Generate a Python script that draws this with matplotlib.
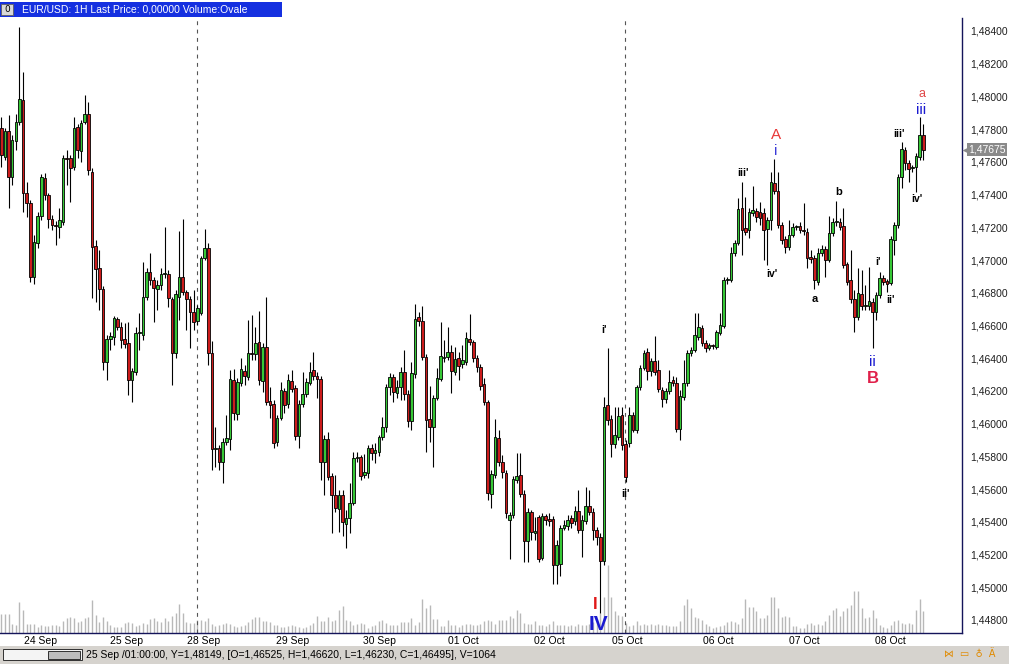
import matplotlib
matplotlib.use('Agg')
import matplotlib.pyplot as plt
import matplotlib.transforms as mtrans
import numpy as np
from matplotlib.patches import Rectangle
from matplotlib.ticker import FuncFormatter

# EUR/USD 1H candles
opens = [
    1.47807, 1.47630, 1.47789, 1.47508, 1.47728, 1.47844, 1.47978, 1.47410, 1.47349, 1.46896,
    1.47104, 1.47269, 1.47502, 1.47398, 1.47251, 1.47214, 1.47202, 1.47233, 1.47624, 1.47624,
    1.47569, 1.47813, 1.47667, 1.47844, 1.47893, 1.47538, 1.47086, 1.46951, 1.46823, 1.46377,
    1.46518, 1.46530, 1.46640, 1.46591, 1.46518, 1.46493, 1.46267, 1.46316, 1.46554, 1.46542,
    1.46774, 1.46927, 1.46878, 1.46823, 1.46848, 1.46915, 1.46915, 1.46762, 1.46432, 1.46774,
    1.46896, 1.46805, 1.46762, 1.46683, 1.46628, 1.46676, 1.47013, 1.47074, 1.46432, 1.45845,
    1.45851, 1.45766, 1.45888, 1.45906, 1.46267, 1.46059, 1.46249, 1.46322, 1.46285, 1.46432,
    1.46426, 1.46499, 1.46261, 1.46469, 1.46138, 1.46120, 1.45888, 1.46035, 1.46200, 1.46120,
    1.46261, 1.46218, 1.45925, 1.46120, 1.46181, 1.46249, 1.46328, 1.46291, 1.46273, 1.45766,
    1.45906, 1.45680, 1.45564, 1.45479, 1.45564, 1.45387, 1.45423, 1.45515, 1.45790, 1.45796,
    1.45686, 1.45699, 1.45851, 1.45821, 1.45827, 1.45919, 1.45980, 1.46224, 1.46285, 1.46188,
    1.46224, 1.46316, 1.46181, 1.46016, 1.46303, 1.46652, 1.46628, 1.46407, 1.46028, 1.45980,
    1.46157, 1.46273, 1.46401, 1.46407, 1.46438, 1.46316, 1.46401, 1.46365, 1.46377, 1.46518,
    1.46499, 1.46401, 1.46346, 1.46242, 1.46132, 1.45570, 1.45686, 1.45912, 1.45766, 1.45699,
    1.45411, 1.45442, 1.45656, 1.45686, 1.45570, 1.45283, 1.45460, 1.45332, 1.45430, 1.45179,
    1.45436, 1.45417, 1.45417, 1.45136, 1.45142, 1.45362, 1.45375, 1.45423, 1.45405, 1.45466,
    1.45350, 1.45405, 1.45497, 1.45460, 1.45350, 1.45307, 1.45161, 1.46114, 1.46028, 1.45876,
    1.45919, 1.46053, 1.45876, 1.45882, 1.46053, 1.45961, 1.46224, 1.46340, 1.46438, 1.46322,
    1.46383, 1.46328, 1.46206, 1.46151, 1.46200, 1.46267, 1.46249, 1.45967, 1.46163, 1.46249,
    1.46432, 1.46450, 1.46530, 1.46585, 1.46493, 1.46462, 1.46481, 1.46469, 1.46554, 1.46597,
    1.46878, 1.46878, 1.47043, 1.47104, 1.47318, 1.47196, 1.47184, 1.47288, 1.47300, 1.47294,
    1.47288, 1.47190, 1.47245, 1.47471, 1.47422, 1.47214, 1.47129, 1.47080, 1.47153, 1.47202,
    1.47208, 1.47184, 1.47171, 1.47019, 1.47013, 1.46866, 1.47043, 1.47068, 1.47000, 1.47165,
    1.47233, 1.47233, 1.47208, 1.46976, 1.46878, 1.46762, 1.46652, 1.46793, 1.46719, 1.46719,
    1.46744, 1.46683, 1.46786, 1.46890, 1.46872, 1.46860, 1.47123, 1.47214, 1.47508, 1.47673,
    1.47593, 1.47563, 1.47569, 1.47630, 1.47764,
]
highs = [
    1.47874, 1.47807, 1.47887, 1.47764, 1.47893, 1.48424, 1.48149, 1.47477, 1.47367, 1.47153,
    1.47294, 1.47526, 1.47532, 1.47410, 1.47275, 1.47239, 1.47318, 1.47642, 1.47673, 1.47642,
    1.47874, 1.47832, 1.47856, 1.48009, 1.47966, 1.47563, 1.47123, 1.47061, 1.46840, 1.46542,
    1.46560, 1.46658, 1.46652, 1.46621, 1.46615, 1.46621, 1.46340, 1.46591, 1.46676, 1.46988,
    1.46951, 1.47043, 1.46896, 1.46878, 1.46951, 1.47202, 1.46939, 1.46774, 1.46817, 1.47178,
    1.47251, 1.46817, 1.46780, 1.46817, 1.46725, 1.47025, 1.47190, 1.47104, 1.46505, 1.45980,
    1.45870, 1.45912, 1.46053, 1.46328, 1.46334, 1.46279, 1.46401, 1.46359, 1.46634, 1.46664,
    1.46591, 1.46689, 1.46493, 1.46774, 1.46224, 1.46145, 1.46053, 1.46255, 1.46218, 1.46303,
    1.46328, 1.46236, 1.46145, 1.46316, 1.46279, 1.46377, 1.46438, 1.46316, 1.46291, 1.45931,
    1.45949, 1.45699, 1.45686, 1.45595, 1.45595, 1.45472, 1.45637, 1.45827, 1.45827, 1.45809,
    1.45815, 1.45870, 1.45876, 1.45882, 1.45931, 1.46041, 1.46242, 1.46310, 1.46303, 1.46267,
    1.46346, 1.46450, 1.46206, 1.46377, 1.46731, 1.46683, 1.46719, 1.46426, 1.46230, 1.46175,
    1.46340, 1.46621, 1.46511, 1.46591, 1.46481, 1.46469, 1.46438, 1.46481, 1.46560, 1.46670,
    1.46511, 1.46420, 1.46365, 1.46279, 1.46145, 1.45717, 1.46029, 1.45961, 1.45809, 1.45717,
    1.45460, 1.45680, 1.45821, 1.45821, 1.45595, 1.45485, 1.45472, 1.45430, 1.45442, 1.45454,
    1.45448, 1.45454, 1.45436, 1.45289, 1.45381, 1.45411, 1.45442, 1.45442, 1.45497, 1.45595,
    1.45442, 1.45613, 1.45595, 1.45485, 1.45368, 1.45332, 1.46163, 1.46462, 1.46053, 1.46102,
    1.46102, 1.46102, 1.45900, 1.46102, 1.46071, 1.46236, 1.46359, 1.46450, 1.46462, 1.46401,
    1.46536, 1.46389, 1.46224, 1.46218, 1.46328, 1.46291, 1.46285, 1.46206, 1.46389, 1.46450,
    1.46469, 1.46676, 1.46676, 1.46603, 1.46511, 1.46493, 1.46487, 1.46573, 1.46676, 1.46896,
    1.46896, 1.47080, 1.47123, 1.47379, 1.47477, 1.47385, 1.47318, 1.47453, 1.47318, 1.47355,
    1.47318, 1.47263, 1.47538, 1.47618, 1.47538, 1.47233, 1.47147, 1.47245, 1.47227, 1.47214,
    1.47233, 1.47349, 1.47196, 1.47061, 1.47031, 1.47074, 1.47092, 1.47086, 1.47269, 1.47257,
    1.47361, 1.47257, 1.47318, 1.46988, 1.47061, 1.46817, 1.46951, 1.46939, 1.46848, 1.46958,
    1.46768, 1.46805, 1.46927, 1.46909, 1.46884, 1.47147, 1.47233, 1.47526, 1.47722, 1.47691,
    1.47612, 1.47581, 1.47654, 1.47874, 1.47832,
]
lows = [
    1.47569, 1.47612, 1.47318, 1.47459, 1.47673, 1.47825, 1.47294, 1.47263, 1.46866, 1.46854,
    1.47074, 1.47245, 1.47367, 1.47196, 1.47184, 1.47092, 1.47135, 1.47214, 1.47459, 1.47355,
    1.47550, 1.47624, 1.47599, 1.47832, 1.47520, 1.46768, 1.46744, 1.46695, 1.46328, 1.46267,
    1.46450, 1.46481, 1.46573, 1.46462, 1.46462, 1.46175, 1.46132, 1.46297, 1.46450, 1.46511,
    1.46756, 1.46848, 1.46621, 1.46695, 1.46817, 1.46890, 1.46713, 1.46236, 1.46401, 1.46634,
    1.46786, 1.46573, 1.46462, 1.46573, 1.46603, 1.46664, 1.47000, 1.46359, 1.45717, 1.45735,
    1.45717, 1.45637, 1.45870, 1.45839, 1.46022, 1.46022, 1.46230, 1.46236, 1.46267, 1.46389,
    1.46389, 1.46236, 1.46194, 1.46114, 1.46034, 1.45851, 1.45864, 1.46022, 1.46065, 1.46096,
    1.46194, 1.45900, 1.45851, 1.46102, 1.46163, 1.46236, 1.46267, 1.46157, 1.45656, 1.45564,
    1.45656, 1.45332, 1.45460, 1.45338, 1.45313, 1.45240, 1.45332, 1.45503, 1.45766, 1.45656,
    1.45668, 1.45668, 1.45778, 1.45760, 1.45803, 1.45900, 1.45949, 1.46175, 1.46132, 1.46157,
    1.46145, 1.46145, 1.45980, 1.45961, 1.46279, 1.46597, 1.46389, 1.45827, 1.45888, 1.45735,
    1.46145, 1.46261, 1.46377, 1.46389, 1.46187, 1.46297, 1.46267, 1.46340, 1.46359, 1.46481,
    1.46377, 1.46316, 1.46206, 1.46114, 1.45533, 1.45485, 1.45668, 1.45741, 1.45668, 1.45423,
    1.45173, 1.45423, 1.45637, 1.45552, 1.45155, 1.45155, 1.45289, 1.45289, 1.45155, 1.45167,
    1.45381, 1.45374, 1.45020, 1.45020, 1.45069, 1.45350, 1.45350, 1.45362, 1.45381, 1.45332,
    1.45185, 1.45387, 1.45442, 1.45289, 1.45258, 1.44843, 1.45136, 1.45992, 1.45796, 1.45851,
    1.45900, 1.45839, 1.45643, 1.45857, 1.45949, 1.45943, 1.46206, 1.46328, 1.46267, 1.46291,
    1.46297, 1.46194, 1.46102, 1.46126, 1.46181, 1.46230, 1.45949, 1.45900, 1.46145, 1.46230,
    1.46414, 1.46438, 1.46511, 1.46475, 1.46438, 1.46450, 1.46456, 1.46456, 1.46542, 1.46585,
    1.46854, 1.46866, 1.47025, 1.47092, 1.47031, 1.47153, 1.47135, 1.47269, 1.47233, 1.47214,
    1.47000, 1.46970, 1.47184, 1.47404, 1.47196, 1.47098, 1.47043, 1.47061, 1.47141, 1.47184,
    1.47165, 1.47153, 1.46951, 1.46982, 1.46823, 1.46848, 1.47025, 1.46896, 1.46988, 1.47147,
    1.47208, 1.47184, 1.46951, 1.46848, 1.46738, 1.46560, 1.46634, 1.46695, 1.46695, 1.46695,
    1.46462, 1.46634, 1.46768, 1.46848, 1.46805, 1.46848, 1.47031, 1.47196, 1.47440, 1.47550,
    1.47477, 1.47538, 1.47416, 1.47612, 1.47612,
]
closes = [
    1.47642, 1.47789, 1.47508, 1.47734, 1.47844, 1.47984, 1.47410, 1.47349, 1.46896, 1.47110,
    1.47269, 1.47508, 1.47398, 1.47251, 1.47214, 1.47208, 1.47245, 1.47624, 1.47618, 1.47563,
    1.47807, 1.47673, 1.47838, 1.47893, 1.47550, 1.47080, 1.46945, 1.46823, 1.46377, 1.46518,
    1.46536, 1.46646, 1.46591, 1.46511, 1.46487, 1.46267, 1.46322, 1.46554, 1.46560, 1.46774,
    1.46927, 1.46878, 1.46829, 1.46848, 1.46915, 1.46921, 1.46768, 1.46432, 1.46793, 1.46896,
    1.46805, 1.46762, 1.46683, 1.46621, 1.46707, 1.47013, 1.47074, 1.46432, 1.45845, 1.45851,
    1.45766, 1.45888, 1.45912, 1.46273, 1.46065, 1.46255, 1.46334, 1.46291, 1.46432, 1.46426,
    1.46493, 1.46267, 1.46469, 1.46132, 1.46114, 1.45882, 1.46035, 1.46206, 1.46114, 1.46267,
    1.46212, 1.45925, 1.46120, 1.46181, 1.46255, 1.46316, 1.46291, 1.46273, 1.45766, 1.45906,
    1.45674, 1.45564, 1.45485, 1.45564, 1.45399, 1.45423, 1.45515, 1.45790, 1.45796, 1.45680,
    1.45705, 1.45851, 1.45821, 1.45839, 1.45919, 1.45980, 1.46224, 1.46285, 1.46194, 1.46224,
    1.46316, 1.46181, 1.46016, 1.46310, 1.46640, 1.46628, 1.46407, 1.46022, 1.45980, 1.46157,
    1.46279, 1.46414, 1.46407, 1.46438, 1.46322, 1.46395, 1.46352, 1.46389, 1.46524, 1.46499,
    1.46401, 1.46346, 1.46230, 1.46132, 1.45576, 1.45692, 1.45919, 1.45766, 1.45705, 1.45454,
    1.45442, 1.45662, 1.45680, 1.45570, 1.45283, 1.45460, 1.45338, 1.45344, 1.45173, 1.45436,
    1.45411, 1.45405, 1.45136, 1.45258, 1.45362, 1.45381, 1.45411, 1.45393, 1.45466, 1.45350,
    1.45411, 1.45497, 1.45460, 1.45350, 1.45307, 1.45161, 1.46102, 1.46022, 1.45876, 1.45931,
    1.46047, 1.45870, 1.45674, 1.46053, 1.45961, 1.46224, 1.46340, 1.46432, 1.46322, 1.46383,
    1.46316, 1.46212, 1.46151, 1.46200, 1.46255, 1.46249, 1.45967, 1.46169, 1.46249, 1.46432,
    1.46450, 1.46542, 1.46591, 1.46493, 1.46462, 1.46481, 1.46475, 1.46560, 1.46603, 1.46878,
    1.46884, 1.47043, 1.47104, 1.47312, 1.47184, 1.47171, 1.47294, 1.47306, 1.47263, 1.47257,
    1.47184, 1.47245, 1.47477, 1.47422, 1.47214, 1.47123, 1.47080, 1.47153, 1.47202, 1.47208,
    1.47184, 1.47178, 1.47013, 1.47007, 1.46878, 1.47043, 1.47068, 1.47000, 1.47165, 1.47233,
    1.47239, 1.47202, 1.46970, 1.46866, 1.46762, 1.46652, 1.46799, 1.46719, 1.46725, 1.46750,
    1.46683, 1.46786, 1.46890, 1.46866, 1.46854, 1.47129, 1.47214, 1.47508, 1.47679, 1.47593,
    1.47557, 1.47569, 1.47636, 1.47764, 1.47675,
]
volumes = [
    57, 58, 58, 27, 25, 93, 70, 27, 27, 27,
    17, 25, 22, 22, 25, 23, 22, 37, 45, 47,
    45, 32, 35, 45, 48, 100, 55, 33, 48, 37,
    25, 18, 17, 18, 30, 32, 30, 20, 25, 30,
    27, 43, 45, 35, 32, 45, 35, 52, 60, 87,
    60, 33, 30, 30, 38, 40, 35, 45, 27, 22,
    25, 27, 30, 27, 20, 18, 20, 25, 32, 42,
    48, 48, 37, 35, 32, 25, 25, 17, 17, 20,
    23, 22, 17, 15, 17, 23, 30, 50, 35, 35,
    48, 35, 40, 70, 80, 40, 35, 25, 27, 30,
    27, 15, 20, 25, 35, 38, 30, 25, 25, 23,
    32, 32, 32, 45, 23, 32, 103, 75, 83, 42,
    43, 20, 20, 38, 25, 25, 18, 23, 27, 27,
    25, 23, 27, 37, 40, 35, 28, 40, 40, 40,
    50, 45, 70, 60, 30, 28, 28, 37, 25, 23,
    20, 27, 35, 25, 25, 23, 22, 23, 20, 27,
    25, 25, 28, 32, 40, 60, 107, 204, 107, 65,
    55, 50, 30, 20, 23, 35, 25, 27, 25, 27,
    23, 27, 25, 23, 20, 20, 20, 35, 83, 103,
    75, 47, 45, 40, 27, 20, 15, 17, 20, 23,
    32, 35, 32, 27, 45, 103, 77, 77, 65, 45,
    45, 55, 107, 107, 75, 47, 50, 47, 20, 20,
    15, 15, 27, 30, 25, 27, 25, 35, 55, 70,
    75, 50, 67, 75, 83, 125, 127, 75, 45, 47,
    70, 45, 25, 17, 15, 23, 35, 40, 30, 27,
    30, 27, 70, 103, 65,
]

day_labels = ['24 Sep', '25 Sep', '28 Sep', '29 Sep', '30 Sep', '01 Oct',
              '02 Oct', '05 Oct', '06 Oct', '07 Oct', '08 Oct']
day_pos = [10.7, 34.6, 55.6, 80.1, 104.3, 127.2, 150.9, 172.4, 197.4, 221.1, 244.8]
week_breaks = [53.9, 171.8]

# wave labels: text, candle, anchor, dx px, dy px, colour, size, weight
waves = [
    ("i'", 167, 'high', -4, 18, 'black', 7.5, 'bold'),
    ("ii'", 172, 'low', 0, -12, 'black', 7.5, 'bold'),
    ("I", 165, 'low', -5, 8, '#e01818', 12, 'heavy'),
    ("IV", 165, 'low', -2, -12, '#1a1ad0', 15, 'bold'),
    ("iii'", 204, 'high', 1, 9, 'black', 7.5, 'bold'),
    ("A", 213, 'high', 1.5, 24, '#e83838', 11, 'normal'),
    ("i", 213, 'high', 1.5, 8, '#3a3ad8', 11, 'normal'),
    ("iv'", 211, 'low', 5, -9, 'black', 7.5, 'bold'),
    ("a", 224, 'low', 0, -10, 'black', 8, 'bold'),
    ("b", 230, 'high', 2, 9, 'black', 8, 'bold'),
    ("i'", 242, 'high', -2, 10, 'black', 7.5, 'bold'),
    ("ii'", 244, 'low', 3, -8, 'black', 7.5, 'bold'),
    ("ii", 240, 'low', 0, -14, '#1a1ad0', 11, 'normal'),
    ("B", 240, 'low', 0, -30, '#e0204a', 12, 'bold'),
    ("iii'", 248, 'high', -2.5, 8, 'black', 7.5, 'bold'),
    ("iv'", 252, 'low', 1, -7, 'black', 7.5, 'bold'),
    ("iii", 253, 'high', 1, 7, '#1a1ad0', 11, 'normal'),
    ("a", 253, 'high', 2, 23, '#e04848', 9, 'normal'),
]

W, H = 1009, 664
fig = plt.figure(figsize=(W / 100, H / 100), dpi=100)
fig.patch.set_facecolor('white')

narrow = ['Liberation Sans Narrow', 'Liberation Sans', 'DejaVu Sans']
plain = ['Liberation Sans', 'DejaVu Sans']


def box(x0, y0, x1, y1):
    return [x0 / W, 1 - y1 / H, (x1 - x0) / W, (y1 - y0) / H]


pos = box(0, 18, 962, 633)
ax_v = fig.add_axes(pos)
ax = fig.add_axes(pos, sharex=ax_v)
ax.patch.set_alpha(0)

o = np.array(opens)
h = np.array(highs)
l = np.array(lows)
c = np.array(closes)
x = np.arange(len(o))

# volume in the background
ax_v.vlines(x, 0, volumes, color='#b8b8b8', lw=1.0)
ax_v.set_ylim(0, 615 * 3)
ax_v.axis('off')

# weekend separators
for b in week_breaks:
    ax.axvline(b, color='#555555', lw=0.8, ls=(0, (3.5, 4)), zorder=1)

# candles
ax.vlines(x, l, h, color='black', lw=0.8, zorder=2)
up = c >= o
bot = np.minimum(o, c)
hgt = np.maximum(np.abs(c - o), 0.00002)
ax.bar(x[up], hgt[up], bottom=bot[up], width=0.72, color='#36c836',
       edgecolor='black', linewidth=0.6, zorder=3)
ax.bar(x[~up], hgt[~up], bottom=bot[~up], width=0.72, color='#cc1c1c',
       edgecolor='black', linewidth=0.6, zorder=3)

px = 3.63
ax.set_xlim(-1.3 / px, (962 - 1.3) / px)
p_top = 1.484 + 13 * 0.002 / 32.72
p_bot = 1.484 - 602 * 0.002 / 32.72
ax.set_ylim(p_bot, p_top)

ax.yaxis.tick_right()
ax.set_yticks(np.arange(1.448, 1.4841, 0.002))
ax.yaxis.set_major_formatter(FuncFormatter(lambda v, p: f'{v:.5f}'.replace('.', ',')))
ax.tick_params(axis='y', length=0, pad=6, labelsize=7.5, labelcolor='#202020')
for t in ax.get_yticklabels():
    t.set_family(plain)

ax.set_xticks(day_pos)
ax.set_xticklabels(day_labels)
ax.tick_params(axis='x', length=0, pad=2, labelsize=7.5)
for t in ax.get_xticklabels():
    t.set_family(narrow)

for s in ['left', 'top']:
    ax.spines[s].set_visible(False)
for s in ['right', 'bottom']:
    ax.spines[s].set_color('#14145a')
    ax.spines[s].set_linewidth(1.0)

# wave counts
for txt, i, anchor, dx, dy, col, size, wt in waves:
    yv = h[i] if anchor == 'high' else l[i]
    ax.annotate(txt, xy=(i, yv), xytext=(dx * 0.72, dy * 0.72), textcoords='offset points',
                ha='center', va='center', color=col, fontsize=size, fontweight=wt,
                family=plain, zorder=5)

# last price tag
last = closes[-1]
tr = mtrans.blended_transform_factory(ax.transAxes, ax.transData)
ax.plot([1 + 4 / 962], [last], marker='<', ms=6, color='#8a8a8a', mec='none',
        transform=tr, clip_on=False, zorder=6)
ax.annotate(f'{last:.5f}'.replace('.', ','), xy=(1, last),
            xycoords=('axes fraction', 'data'), xytext=(6.5 * 0.72, 0), textcoords='offset points',
            ha='left', va='center', color='white', fontsize=7.5, family=plain,
            bbox=dict(boxstyle='square,pad=0.12', fc='#8a8a8a', ec='none'))

# title bar
fig.patches.append(Rectangle((0, 1 - 17 / H), 282 / W, 15 / H, transform=fig.transFigure,
                             fc='#1530e0', ec='none'))
fig.patches.append(Rectangle((1 / W, 1 - 15 / H), 12 / W, 11 / H, transform=fig.transFigure,
                             fc='#d8d8d8', ec='#606060', lw=0.6))
fig.text(7 / W, 1 - 10 / H, '0', fontsize=6.5, color='black', ha='center', va='center')
fig.text(22 / W, 1 - 10 / H, 'EUR/USD: 1H Last Price: 0,00000 Volume:Ovale',
         fontsize=7.5, color='white', va='center', family=plain)

# status bar
fig.patches.append(Rectangle((0, 0), 1, 18 / H, transform=fig.transFigure,
                             fc='#d6d3ce', ec='none'))
fig.patches.append(Rectangle((3 / W, 1 - 660 / H), 79 / W, 11 / H, transform=fig.transFigure,
                             fc='#f4f4f4', ec='#303030', lw=0.7))
fig.patches.append(Rectangle((48 / W, 1 - 658.5 / H), 32 / W, 8 / H, transform=fig.transFigure,
                             fc='#bdbdbd', ec='#303030', lw=0.7))
fig.text(86 / W, 1 - 655 / H,
         '25 Sep /01:00:00, Y=1,48149, [O=1,46525, H=1,46620, L=1,46230, C=1,46495], V=1064',
         fontsize=7.5, va='center', family=narrow)
fig.text(944 / W, 1 - 655 / H, '⋈  ▭  ♁  Ä', fontsize=7, va='center', color='#e08a00')

fig.savefig('out.png', dpi=100)
